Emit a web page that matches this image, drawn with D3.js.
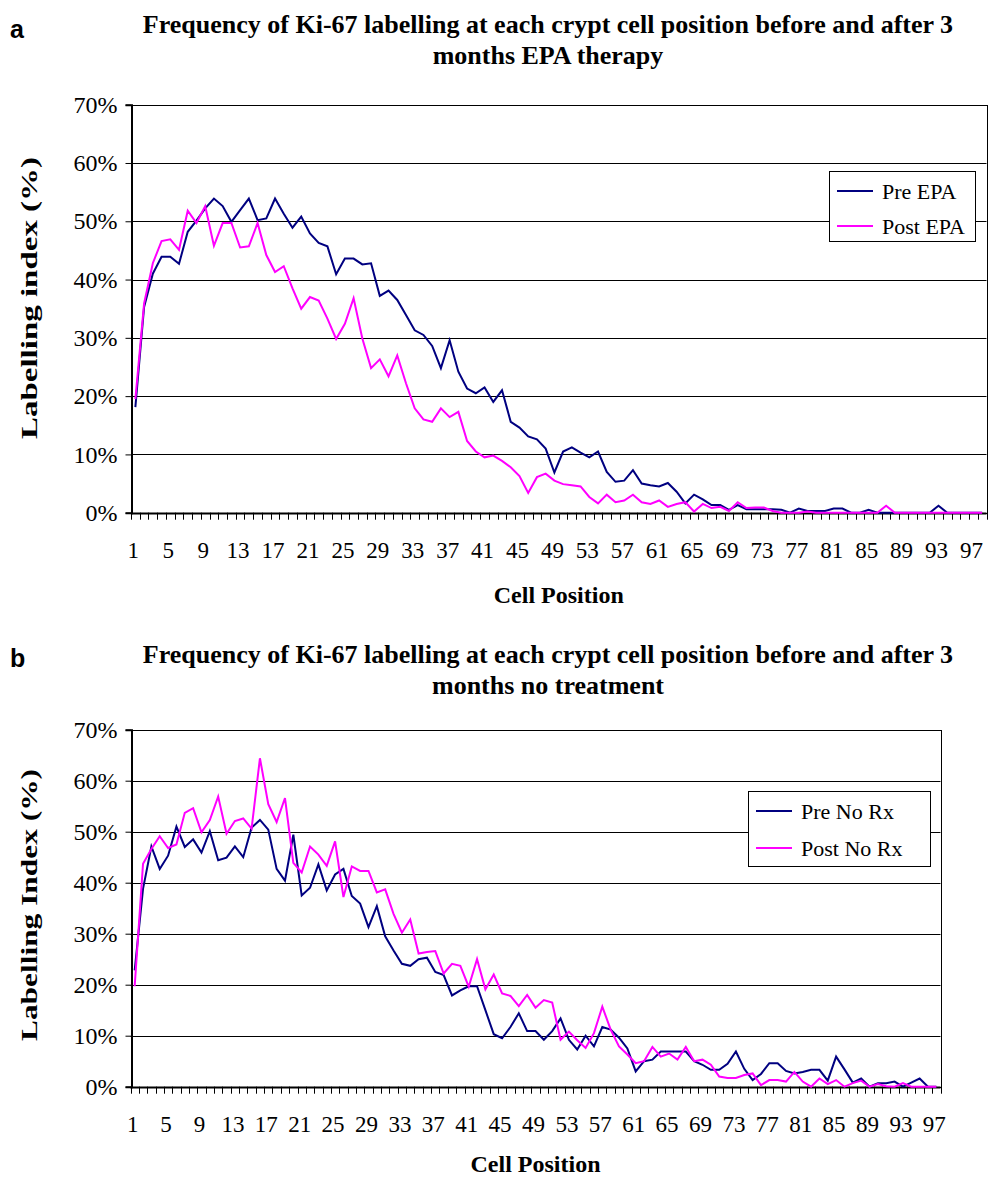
<!DOCTYPE html>
<html>
<head>
<meta charset="utf-8">
<script src="https://cdn.jsdelivr.net/npm/d3@7"></script>
<style>
  body { margin: 0; background: #fff; }
  svg text { font-family: "Liberation Serif", "Times New Roman", serif; fill: #000; }
</style>
</head>
<body>
<div id="chart-area"></div>
<script>
// cell positions (categories)
const positionsA = d3.range(1, 99);
const positionsB = d3.range(1, 98);
const xTickLabels = [1, 5, 9, 13, 17, 21, 25, 29, 33, 37, 41, 45, 49, 53, 57, 61, 65, 69, 73, 77, 81, 85, 89, 93, 97];
const yTicks = [0, 0.1, 0.2, 0.3, 0.4, 0.5, 0.6, 0.7];

// panel a, labelling index in %
const preEPA = [18.1, 35.3, 41.0, 43.9, 43.9, 42.7, 48.2, 50.1, 52.2, 53.9,
  52.6, 49.9, 51.9, 53.9, 50.2, 50.5, 53.9, 51.3, 48.9, 50.8,
  47.9, 46.3, 45.7, 40.9, 43.6, 43.6, 42.6, 42.8, 37.2, 38.1,
  36.5, 33.9, 31.3, 30.5, 28.6, 24.8, 29.6, 24.2, 21.3, 20.5,
  21.5, 19.0, 21.0, 15.6, 14.6, 13.1, 12.6, 11.0, 6.9, 10.5,
  11.2, 10.3, 9.5, 10.5, 7.0, 5.3, 5.5, 7.3, 5.0, 4.7,
  4.5, 5.1, 3.6, 1.6, 3.1, 2.3, 1.3, 1.3, 0.5, 1.3,
  0.6, 0.6, 0.6, 0.6, 0.5, 0, 0.7, 0.3, 0.3, 0.3,
  0.7, 0.7, 0, 0, 0.5, 0, 0, 0, 0, 0,
  0, 0, 1.2, 0, 0, 0, 0, 0];
const postEPA = [19.5, 35.9, 42.8, 46.6, 46.9, 45.1, 51.8, 49.7, 52.6, 45.8,
  49.7, 49.7, 45.5, 45.7, 49.7, 44.2, 41.3, 42.3, 38.5, 35.0,
  37.0, 36.4, 33.3, 29.8, 32.4, 36.8, 29.9, 24.8, 26.3, 23.4,
  27.0, 22.2, 17.9, 16.0, 15.6, 17.9, 16.4, 17.3, 12.3, 10.5,
  9.5, 9.8, 8.9, 7.8, 6.3, 3.4, 6.1, 6.7, 5.5, 4.9,
  4.7, 4.5, 2.7, 1.6, 3.1, 1.8, 2.1, 3.1, 1.8, 1.5,
  2.1, 1.0, 1.5, 1.8, 0.2, 1.5, 0.8, 1.0, 0.3, 1.8,
  0.8, 0.9, 0.9, 0.3, 0, 0, 0, 0.2, 0, 0,
  0, 0, 0, 0, 0, 0, 1.2, 0, 0, 0,
  0, 0, 0, 0, 0, 0, 0, 0];

// panel b
const preNoRx = [22.8, 38.8, 47.1, 42.7, 45.3, 51.0, 47.0, 48.5, 45.9, 50.1,
  44.4, 44.9, 47.1, 45.0, 50.8, 52.3, 50.4, 42.7, 40.4, 49.4,
  37.5, 39.0, 43.6, 38.5, 41.6, 42.7, 37.4, 35.9, 31.3, 35.4,
  29.5, 26.7, 24.1, 23.7, 25.0, 25.3, 22.5, 21.9, 17.9, 18.9,
  19.7, 19.7, 15.0, 10.3, 9.5, 11.7, 14.4, 10.9, 10.9, 9.2,
  10.9, 13.4, 9.2, 7.3, 10.0, 7.9, 11.7, 11.2, 9.6, 7.5,
  3.0, 5.0, 5.3, 6.9, 6.9, 6.9, 6.9, 5.0, 4.3, 3.3,
  3.3, 4.5, 6.9, 3.5, 1.3, 2.5, 4.6, 4.6, 3.1, 2.6,
  2.9, 3.3, 3.3, 1.2, 5.9, 3.4, 0.8, 1.6, 0, 0.7,
  0.7, 1.0, 0, 0.8, 1.6, 0, 0];
const postNoRx = [19.7, 43.7, 46.6, 49.1, 46.8, 47.5, 53.7, 54.6, 49.9, 52.3,
  56.9, 49.6, 52.1, 52.6, 50.6, 64.4, 55.4, 51.9, 56.6, 43.9,
  42.0, 47.1, 45.5, 43.3, 48.1, 37.2, 43.2, 42.3, 42.3, 38.1,
  38.7, 33.9, 30.2, 32.8, 26.1, 26.4, 26.6, 22.2, 24.1, 23.7,
  19.6, 25.0, 19.1, 22.0, 18.3, 17.8, 15.8, 18.0, 15.5, 17.0,
  16.5, 9.2, 10.8, 9.1, 7.6, 10.5, 15.7, 11.2, 7.9, 6.3,
  4.6, 5.0, 7.8, 5.9, 6.5, 5.3, 7.8, 5.0, 5.3, 4.3,
  2.0, 1.7, 1.7, 2.3, 2.6, 0.3, 1.3, 1.3, 1.0, 2.9,
  1.0, 0, 1.6, 0.5, 1.3, 0, 0.7, 1.2, 0, 0.5,
  0.1, 0, 0.7, 0, 0, 0, 0];

const svgWidth = 994;
const svgHeight = 1178;
const svg = d3.select("#chart-area")
  .append("svg")
  .attr("width", svgWidth)
  .attr("height", svgHeight);

function drawPanel(opt) {
  const g = svg.append("g");

  const x = d3.scaleBand()
    .domain(opt.positions)
    .range([opt.left, opt.right])
    .padding(0);

  const y = d3.scaleLinear()
    .domain([0, 0.7])
    .range([opt.bottom, opt.top]);

  // panel letter
  g.append("text")
    .attr("x", 10)
    .attr("y", opt.letterY)
    .style("font-family", "'Liberation Sans', Arial, sans-serif")
    .style("font-weight", "bold")
    .style("font-size", "25px")
    .text(opt.letter);

  // title
  opt.title.forEach((line, i) => {
    g.append("text")
      .attr("x", 548)
      .attr("y", opt.titleY + i * 31)
      .attr("text-anchor", "middle")
      .style("font-weight", "bold")
      .style("font-size", "26px")
      .text(line);
  });

  // gridlines
  g.selectAll(".grid")
    .data(yTicks)
    .enter()
    .append("line")
    .attr("x1", opt.left)
    .attr("x2", opt.right)
    .attr("y1", d => Math.round(y(d)) + 0.5)
    .attr("y2", d => Math.round(y(d)) + 0.5)
    .attr("stroke", "#000")
    .attr("stroke-width", 1);

  // plot frame
  g.append("rect")
    .attr("x", Math.round(opt.left) + 0.5)
    .attr("y", Math.round(y(0.7)) + 0.5)
    .attr("width", Math.round(opt.right - opt.left))
    .attr("height", Math.round(y(0) - y(0.7)))
    .attr("fill", "none")
    .attr("stroke", "#000")
    .attr("stroke-width", 1);

  // y axis
  const yAxis = d3.axisLeft(y)
    .tickValues(yTicks)
    .tickFormat(d3.format(".0%"))
    .tickSize(6)
    .tickPadding(8);
  const yg = g.append("g")
    .attr("transform", `translate(${Math.round(opt.left) + 0.5},0)`)
    .call(yAxis);
  yg.select(".domain").attr("stroke-width", 2);
  yg.selectAll("text")
    .style("font-family", "'Liberation Serif', serif")
    .style("font-size", "24px");

  // x axis: ticks at band edges
  const edges = opt.positions.map(d => x(d)).concat([opt.right]);
  g.selectAll(".xtick")
    .data(edges)
    .enter()
    .append("line")
    .attr("x1", d => Math.round(d) + 0.5)
    .attr("x2", d => Math.round(d) + 0.5)
    .attr("y1", opt.bottom)
    .attr("y2", opt.bottom + 7)
    .attr("stroke", "#000");

  g.append("line")
    .attr("x1", opt.left)
    .attr("x2", opt.right)
    .attr("y1", Math.round(opt.bottom) + 0.5)
    .attr("y2", Math.round(opt.bottom) + 0.5)
    .attr("stroke", "#000")
    .attr("stroke-width", 2);

  g.selectAll(".xlabel")
    .data(xTickLabels)
    .enter()
    .append("text")
    .attr("x", d => x(d) + x.bandwidth() / 2 - 2)
    .attr("y", opt.bottom + 45)
    .attr("text-anchor", "middle")
    .style("font-size", "23px")
    .text(d => d);

  // axis titles
  g.append("text")
    .attr("x", (opt.left + opt.right) / 2)
    .attr("y", opt.bottom + opt.xTitleOffset)
    .attr("text-anchor", "middle")
    .style("font-weight", "bold")
    .style("font-size", "24px")
    .text("Cell Position");

  g.append("text")
    .attr("transform", `translate(37,${opt.yTitleY}) rotate(-90)`)
    .attr("text-anchor", "middle")
    .attr("textLength", opt.yTitleLen)
    .attr("lengthAdjust", "spacingAndGlyphs")
    .style("font-weight", "bold")
    .style("font-size", "24px")
    .text(opt.yTitle);

  // lines
  const line = d3.line()
    .x((d, i) => x(opt.positions[i]) + x.bandwidth() / 2)
    .y(d => y(d / 100));

  opt.series.forEach(s => {
    g.append("path")
      .datum(s.values)
      .attr("fill", "none")
      .attr("stroke", s.color)
      .attr("stroke-width", 2)
      .attr("d", line);
  });

  // legend
  const lg = g.append("g");
  lg.append("rect")
    .attr("x", opt.legend.x + 0.5)
    .attr("y", opt.legend.y + 0.5)
    .attr("width", opt.legend.w)
    .attr("height", opt.legend.h)
    .attr("fill", "#fff")
    .attr("stroke", "#000");
  opt.series.forEach((s, i) => {
    const ly = opt.legend.y + opt.legend.first + i * opt.legend.step;
    lg.append("line")
      .attr("x1", opt.legend.x + 8)
      .attr("x2", opt.legend.x + 44)
      .attr("y1", ly)
      .attr("y2", ly)
      .attr("stroke", s.color)
      .attr("stroke-width", 2);
    lg.append("text")
      .attr("x", opt.legend.x + 53)
      .attr("y", ly + 8)
      .style("font-size", "22px")
      .text(s.name);
  });
}

drawPanel({
  letter: "a",
  letterY: 38,
  title: ["Frequency of Ki-67 labelling at each crypt cell position before and after 3",
          "months EPA therapy"],
  titleY: 33,
  positions: positionsA,
  left: 131, right: 986.5, top: 104.7, bottom: 512.7,
  xTitleOffset: 90,
  yTitle: "Labelling index (%)",
  yTitleY: 298,
  yTitleLen: 282,
  series: [
    { name: "Pre EPA", values: preEPA, color: "#000080" },
    { name: "Post EPA", values: postEPA, color: "#FF00FF" }
  ],
  legend: { x: 829, y: 171, w: 146, h: 70, first: 20, step: 35 }
});

drawPanel({
  letter: "b",
  letterY: 667,
  title: ["Frequency of Ki-67 labelling at each crypt cell position before and after 3",
          "months no treatment"],
  titleY: 663,
  positions: positionsB,
  left: 130.5, right: 940.5, top: 729.7, bottom: 1086.7,
  xTitleOffset: 85,
  yTitle: "Labelling Index (%)",
  yTitleY: 905,
  yTitleLen: 272,
  series: [
    { name: "Pre No Rx", values: preNoRx, color: "#000080" },
    { name: "Post No Rx", values: postNoRx, color: "#FF00FF" }
  ],
  legend: { x: 748, y: 791, w: 182, h: 75, first: 20, step: 37 }
});
</script>
</body>
</html>
